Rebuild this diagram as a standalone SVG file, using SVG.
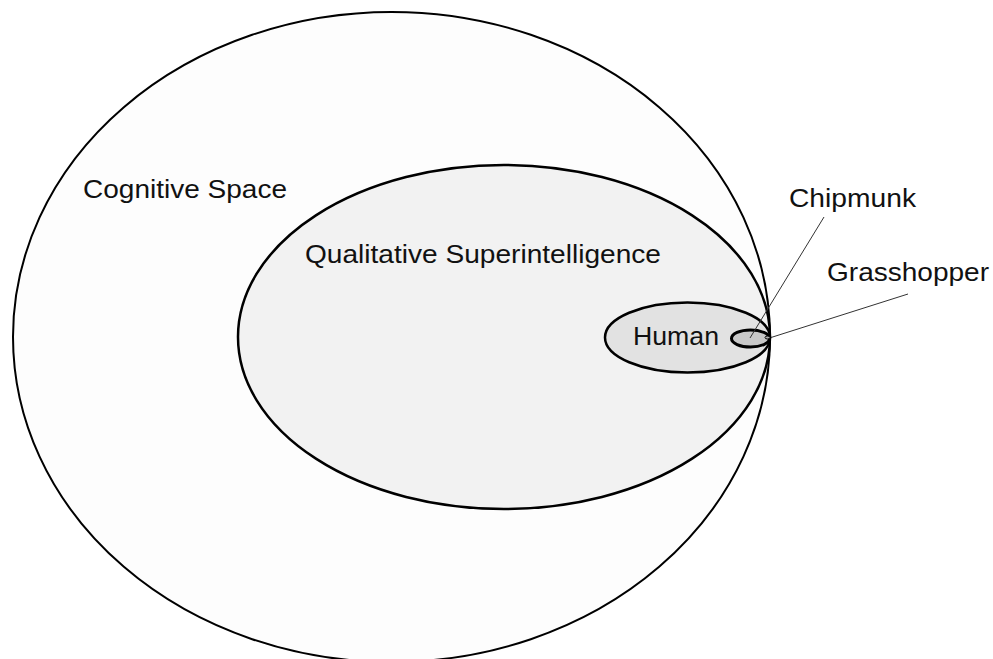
<svg xmlns="http://www.w3.org/2000/svg" width="993" height="659" viewBox="0 0 993 659">
<style>
.lbl{font-family:"Liberation Sans",Arial,Helvetica,sans-serif;font-size:26.5px;fill:#111}
.ring{stroke:#000}
.lead{stroke:#333;stroke-width:1;fill:none}
</style>
<rect width="993" height="659" fill="#ffffff"/>
<g id="cognitive-space">
<ellipse class="ring" cx="391.5" cy="337" rx="378.5" ry="325" fill="#fdfdfd" stroke-width="2"/>
<text class="lbl" x="83" y="198" textLength="204" lengthAdjust="spacingAndGlyphs">Cognitive Space</text>
</g>
<g id="qualitative-superintelligence">
<ellipse class="ring" cx="504" cy="337" rx="266" ry="172" fill="#f2f2f2" stroke-width="2.5"/>
<text class="lbl" x="305" y="263" textLength="356" lengthAdjust="spacingAndGlyphs">Qualitative Superintelligence</text>
</g>
<g id="human">
<ellipse class="ring" cx="687.5" cy="337.5" rx="82.5" ry="35" fill="#e2e2e2" stroke-width="2.5"/>
<text class="lbl" x="633" y="344.5" textLength="86" lengthAdjust="spacingAndGlyphs">Human</text>
</g>
<g id="chipmunk">
<ellipse class="ring" cx="750.5" cy="338.5" rx="19" ry="8.5" fill="#c8c8c8" stroke-width="3"/>
<text class="lbl" x="789" y="207" textLength="127" lengthAdjust="spacingAndGlyphs">Chipmunk</text>
</g>
<g id="grasshopper">
<ellipse class="ring" cx="767.5" cy="337.5" rx="2.5" ry="1.5" fill="#b0b0b0" stroke-width="1"/>
<text class="lbl" x="827" y="281" textLength="162" lengthAdjust="spacingAndGlyphs">Grasshopper</text>
</g>
<g id="connectors">
<line class="lead" x1="824" y1="217" x2="750" y2="338"/>
<line class="lead" x1="908" y1="294" x2="771" y2="337.5"/>
</g>
</svg>
